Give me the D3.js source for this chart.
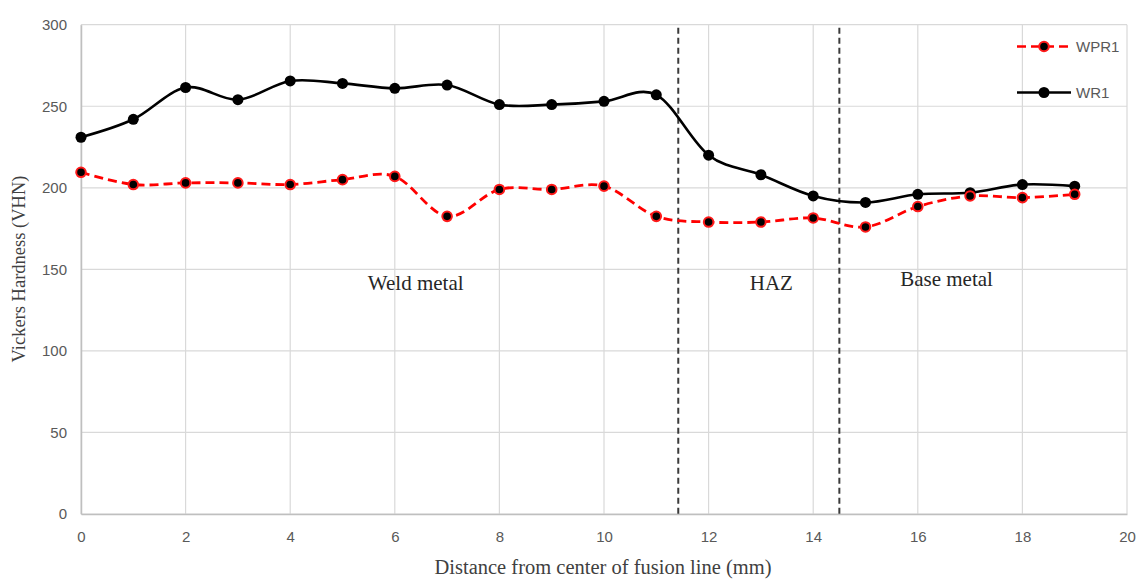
<!DOCTYPE html>
<html>
<head>
<meta charset="utf-8">
<script src="https://cdn.jsdelivr.net/npm/d3@7"></script>
<style>
  html, body { margin: 0; padding: 0; background: #fff; }
  svg { display: block; }
</style>
</head>
<body>
<svg id="chart" width="1138" height="579"></svg>
<script>
// Hardness traverse across the weld, measured every 1 mm
const distances = [0, 1, 2, 3, 4, 5, 6, 7, 8, 9, 10, 11, 12, 13, 14, 15, 16, 17, 18, 19];
const wpr1 = [209.5, 202, 203, 203, 202, 205, 207, 182.5, 199, 199, 201, 182.5, 179, 179, 181.5, 176, 188.5, 195, 194, 196];
const wr1 = [231, 242, 261.5, 254, 265.5, 264, 261, 263, 251, 251, 253, 257, 220, 208, 195, 191, 196, 197, 202, 201];
const xTicks = [0, 2, 4, 6, 8, 10, 12, 14, 16, 18, 20];
const yTicks = [0, 50, 100, 150, 200, 250, 300];
// Zone boundaries (mm) and zone labels
const zoneBounds = [11.42, 14.5];
const zoneLabels = [
  { text: "Weld metal", x: 6.4, y: 137.5 },
  { text: "HAZ", x: 13.2, y: 137.5 },
  { text: "Base metal", x: 16.55, y: 139.5 }
];

const svg = d3.select("#chart");
const m = { left: 81, right: 1127, top: 24.7, bottom: 514 };
const x = d3.scaleLinear().domain([0, 20]).range([m.left, m.right]);
const y = d3.scaleLinear().domain([0, 300]).range([m.bottom, m.top]);

const gridColor = "#d9d9d9";
const tickColor = "#595959";

// Gridlines
const grid = svg.append("g");
grid.selectAll("line.h").data(yTicks).join("line")
  .attr("x1", m.left).attr("x2", m.right)
  .attr("y1", d => y(d)).attr("y2", d => y(d))
  .attr("stroke", gridColor).attr("stroke-width", 1.2);
grid.selectAll("line.v").data(xTicks).join("line")
  .attr("y1", m.top).attr("y2", m.bottom)
  .attr("x1", d => x(d)).attr("x2", d => x(d))
  .attr("stroke", gridColor).attr("stroke-width", 1.2);

// Axes
const xAxis = svg.append("g").attr("transform", `translate(0,${m.bottom})`)
  .call(d3.axisBottom(x).tickValues(xTicks).tickSize(0).tickPadding(17));
const yAxis = svg.append("g").attr("transform", `translate(${m.left},0)`)
  .call(d3.axisLeft(y).tickValues(yTicks).tickSize(0).tickPadding(14));
[xAxis, yAxis].forEach(a => {
  a.select(".domain").attr("stroke", "#bfbfbf").attr("stroke-width", 1.5);
  a.selectAll("text").attr("fill", tickColor)
    .style("font-family", "'Liberation Sans', Arial, sans-serif")
    .style("font-size", "15px");
});

// Zone boundary lines
svg.append("g").selectAll("line").data(zoneBounds).join("line")
  .attr("x1", d => x(d)).attr("x2", d => x(d))
  .attr("y1", m.top + 3).attr("y2", m.bottom)
  .attr("stroke", "#3a3a3a").attr("stroke-width", 2)
  .attr("stroke-dasharray", "6,4");

// Zone labels
svg.append("g").selectAll("text").data(zoneLabels).join("text")
  .attr("x", d => x(d.x)).attr("y", d => y(d.y))
  .attr("text-anchor", "middle")
  .attr("fill", "#262626")
  .style("font-family", "'Liberation Serif', 'Times New Roman', serif")
  .style("font-size", "21px")
  .text(d => d.text);

// Series
const pts = vals => distances.map((d, i) => [d, vals[i]]);
const line = d3.line().x(d => x(d[0])).y(d => y(d[1])).curve(d3.curveCardinal.tension(0));

svg.append("path").datum(pts(wr1))
  .attr("d", line).attr("fill", "none")
  .attr("stroke", "#000").attr("stroke-width", 2.6);
svg.append("path").datum(pts(wpr1))
  .attr("d", line).attr("fill", "none")
  .attr("stroke", "#ff0000").attr("stroke-width", 2.8)
  .attr("stroke-dasharray", "9,5");

svg.append("g").selectAll("circle").data(pts(wr1)).join("circle")
  .attr("cx", d => x(d[0])).attr("cy", d => y(d[1])).attr("r", 5.5)
  .attr("fill", "#000");
svg.append("g").selectAll("circle").data(pts(wpr1)).join("circle")
  .attr("cx", d => x(d[0])).attr("cy", d => y(d[1])).attr("r", 4.8)
  .attr("fill", "#000").attr("stroke", "#ff1a1a").attr("stroke-width", 2);

// Legend
const legend = [
  { name: "WPR1", color: "#ff0000", dash: "9,5", y: 46.5, ring: true },
  { name: "WR1", color: "#000", dash: null, y: 92.5, ring: false }
];
const lg = svg.append("g").selectAll("g").data(legend).join("g");
lg.append("line")
  .attr("x1", 1017).attr("x2", 1071)
  .attr("y1", d => d.y).attr("y2", d => d.y)
  .attr("stroke", d => d.color).attr("stroke-width", 2.7)
  .attr("stroke-dasharray", d => d.dash);
lg.append("circle")
  .attr("cx", 1044).attr("cy", d => d.y)
  .attr("r", d => d.ring ? 4.8 : 5.5)
  .attr("fill", "#000")
  .attr("stroke", d => d.ring ? "#ff1a1a" : "none").attr("stroke-width", 2);
lg.append("text")
  .attr("x", 1076).attr("y", d => d.y + 5.5)
  .attr("fill", tickColor)
  .style("font-family", "'Liberation Sans', Arial, sans-serif")
  .style("font-size", "15px")
  .text(d => d.name);

// Axis titles
svg.append("text")
  .attr("x", 603).attr("y", 574)
  .attr("text-anchor", "middle").attr("fill", "#404040")
  .style("font-family", "'Liberation Serif', 'Times New Roman', serif")
  .style("font-size", "20.5px")
  .text("Distance from center of fusion line (mm)");
svg.append("text")
  .attr("transform", `translate(25,269) rotate(-90)`)
  .attr("text-anchor", "middle").attr("fill", "#404040")
  .style("font-family", "'Liberation Serif', 'Times New Roman', serif")
  .style("font-size", "18.5px")
  .text("Vickers Hardness (VHN)");
</script>
</body>
</html>
